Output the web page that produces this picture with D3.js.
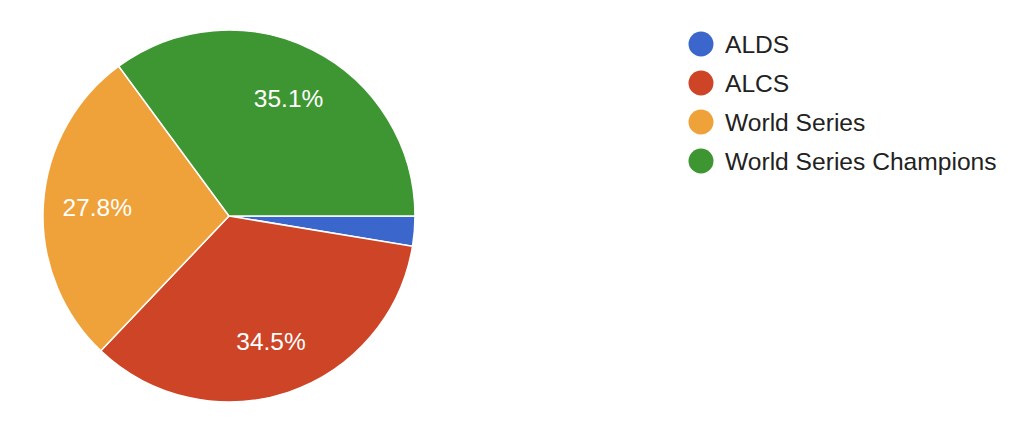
<!DOCTYPE html>
<html><head><meta charset="utf-8">
<script src="https://cdn.jsdelivr.net/npm/d3@7"></script>
<style>html,body{margin:0;padding:0;background:#fff;}svg{display:block;font-family:"Liberation Sans",Arial,Helvetica,sans-serif;}</style>
</head><body>
<svg id="chart" width="1024" height="438"></svg>
<script>
const categories = ["ALDS", "ALCS", "World Series", "World Series Champions"];
const values = [2.6, 34.5, 27.8, 35.1];
const labels = ["", "34.5%", "27.8%", "35.1%"];
const colors = ["#3b67cc", "#cd4426", "#f0a23a", "#3e9633"];

const svg = d3.select("#chart");
const cx = 229, cy = 216, R = 186;
const g = svg.append("g").attr("transform", `translate(${cx},${cy})`);
const pie = d3.pie().sort(null).value(d => d.v)
  .startAngle(Math.PI / 2).endAngle(Math.PI / 2 + 2 * Math.PI);
const data = categories.map((c, i) => ({c, v: values[i], l: labels[i], col: colors[i]}));
const arcs = pie(data);
const arc = d3.arc().innerRadius(0).outerRadius(R);
const labelArc = d3.arc().innerRadius(R * 0.71).outerRadius(R * 0.71);

g.selectAll("path").data(arcs).join("path")
  .attr("d", arc).attr("fill", d => d.data.col)
  .attr("stroke", "#fff").attr("stroke-width", 1.5);

g.selectAll("text.lbl").data(arcs.filter(d => d.data.l)).join("text")
  .attr("class", "lbl")
  .attr("transform", d => `translate(${labelArc.centroid(d)})`)
  .attr("text-anchor", "middle").attr("dy", "0.35em")
  .attr("fill", "#fff").attr("font-size", 24.5)
  .text(d => d.data.l);

const yScale = d3.scalePoint().domain(categories).range([44, 161]);
const leg = svg.append("g");
const items = leg.selectAll("g").data(data).join("g")
  .attr("transform", d => `translate(701,${yScale(d.c)})`);
items.append("circle").attr("r", 12.5).attr("fill", d => d.col);
items.append("text").attr("x", 24).attr("dy", "0.35em")
  .attr("font-size", 24.6).attr("fill", "#222").text(d => d.c);
</script>
</body></html>
